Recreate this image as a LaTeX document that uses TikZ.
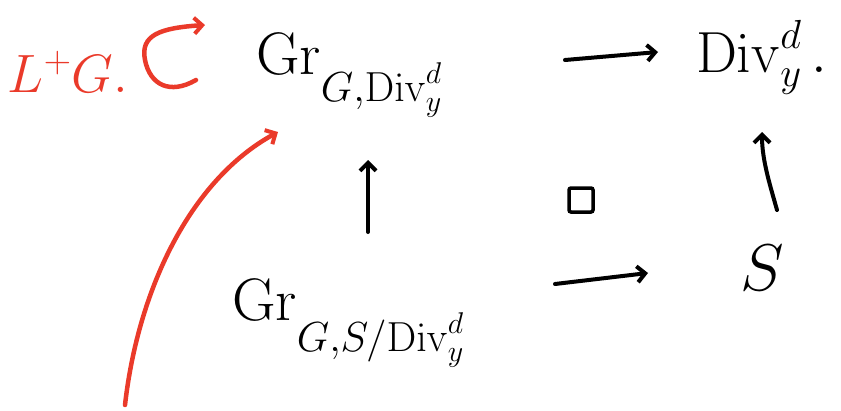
\RequirePackage{fix-cm}
\documentclass[tikz,border=0pt]{standalone}
\usepackage{amsmath}
\usetikzlibrary{arrows.meta}
\definecolor{penred}{RGB}{234,58,42}
\begin{document}
\begin{tikzpicture}[x=1pt,y=-1pt,
  ink/.style={line width=4pt, line cap=round, line join=round},
  arr/.style={ink, -{Straight Barb[length=8pt,width=16pt,line width=4pt]}},
  lbl/.style={inner sep=0pt, outer sep=0pt},
  big/.style={font=\fontsize{60}{64}\selectfont},
  pull/.style={draw, line width=3.5pt, minimum size=24pt, inner sep=0pt, rounded corners=2pt},
]
\useasboundingbox (0,0) rectangle (841,410);
% labels
\node[lbl, anchor=base west, text=penred, font=\fontsize{54}{58}\selectfont] (lg) at (8,92) {$L^+G.$};
\node[lbl, big, anchor=base west] (grtop) at (256,74)
  {$\mathrm{Gr}_{\raisebox{-18pt}{$\scriptstyle G,\mathrm{Div}^d_y$}}$};
\node[lbl, anchor=base west, font=\fontsize{58}{62}\selectfont] (div) at (696,72) {$\mathrm{Div}^d_y\,.$};
\node[lbl, big, anchor=base west] (grbot) at (232,320)
  {$\mathrm{Gr}_{\raisebox{-22pt}{$\scriptstyle G,S/\mathrm{Div}^d_y$}}$};
\node[lbl, font=\fontsize{66}{70}\selectfont] (s) at (762,268) {$S$};
\node[pull] (sq) at (581,200) {};
% arrow end points
\coordinate (topA) at (565,60);
\coordinate (topB) at (658,52);
\coordinate (botA) at (555,284);
\coordinate (botB) at (648,273);
\coordinate (leftA) at (368,232);
\coordinate (leftB) at (368,160);
\coordinate (rightA) at (777,210);
\coordinate (rightB) at (762,132);
\coordinate (redA) at (125,405);
\coordinate (redB) at (278,132);
\coordinate (loopA) at (196,80);
\coordinate (loopB) at (205,25);
% black arrows
\draw[arr] (topA) -- (topB);
\draw[arr] (botA) -- (botB);
\draw[arr] (leftA) -- (leftB);
\draw[arr] (rightA) .. controls (770,185) and (762,160) .. (rightB);
% red arrows
\draw[arr, penred, line width=4.5pt] (redA) .. controls (138,290) and (190,180) .. (redB);
\draw[arr, penred, line width=4.5pt] (loopA) .. controls (170,95) and (150,85) .. (145,60)
   .. controls (140,35) and (160,28) .. (loopB);
\end{tikzpicture}
\end{document}
